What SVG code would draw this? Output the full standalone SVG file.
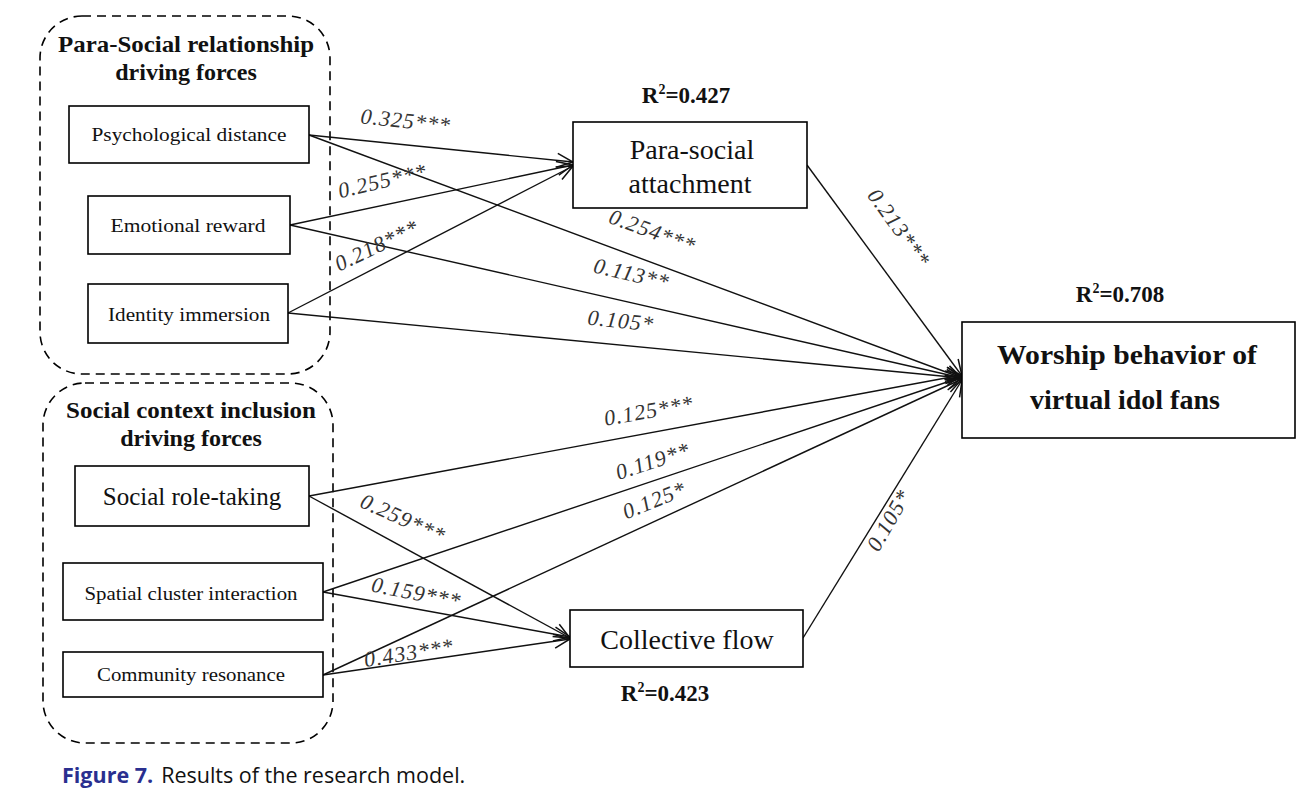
<svg xmlns="http://www.w3.org/2000/svg" width="1310" height="795" viewBox="0 0 1310 795">
<style>
.box{fill:#fff;stroke:#000;stroke-width:1.6}
.grp{fill:none;stroke:#000;stroke-width:1.6;stroke-dasharray:9 6}
.t{font-family:"Liberation Serif",serif;fill:#111;text-anchor:middle}
.gt{font-family:"Liberation Serif",serif;font-weight:bold;font-size:24px;fill:#111;text-anchor:middle}
.r2{font-family:"Liberation Serif",serif;font-weight:bold;font-size:23px;fill:#111;text-anchor:middle}
.e{fill:none;stroke:#111;stroke-width:1.4;marker-end:url(#arr)}
.lb{font-family:"Liberation Serif",serif;font-style:italic;font-size:22px;letter-spacing:1px;fill:#333;text-anchor:middle}
</style>
<defs>
<marker id="arr" viewBox="0 0 20 20" refX="18" refY="10" markerWidth="20" markerHeight="20" markerUnits="userSpaceOnUse" orient="auto">
<path d="M2,3 L18,10 L2,17" fill="none" stroke="#111" stroke-width="1.5"/>
</marker>
</defs>
<rect width="1310" height="795" fill="#fff"/>

<g id="group-parasocial">
<rect class="grp" x="40" y="16" width="290" height="358" rx="42"/>
<text class="gt" x="186" y="52" textLength="256" lengthAdjust="spacingAndGlyphs">Para-Social relationship</text>
<text class="gt" x="186" y="80">driving forces</text>
</g>
<g id="group-social">
<rect class="grp" x="43" y="383" width="290" height="360" rx="42"/>
<text class="gt" x="191" y="418" textLength="250" lengthAdjust="spacingAndGlyphs">Social context inclusion</text>
<text class="gt" x="191" y="446">driving forces</text>
</g>

<g id="edges">
<line class="e" x1="309" y1="135" x2="573" y2="162"/>
<line class="e" x1="309" y1="135" x2="962" y2="378"/>
<line class="e" x1="290" y1="225" x2="573" y2="165"/>
<line class="e" x1="290" y1="225" x2="962" y2="378"/>
<line class="e" x1="288" y1="313" x2="573" y2="166"/>
<line class="e" x1="288" y1="313" x2="962" y2="378"/>
<line class="e" x1="807" y1="165" x2="962" y2="376"/>
<line class="e" x1="309" y1="496" x2="962" y2="375"/>
<line class="e" x1="309" y1="496" x2="570" y2="638"/>
<line class="e" x1="323" y1="592" x2="962" y2="377"/>
<line class="e" x1="323" y1="592" x2="570" y2="637"/>
<line class="e" x1="323" y1="675" x2="962" y2="379"/>
<line class="e" x1="323" y1="675" x2="570" y2="639"/>
<line class="e" x1="803" y1="638" x2="962" y2="380"/>
<text class="lb" transform="translate(405,128) rotate(6)">0.325***</text>
<text class="lb" transform="translate(650,238) rotate(20)">0.254***</text>
<text class="lb" transform="translate(384,188) rotate(-13)">0.255***</text>
<text class="lb" transform="translate(630,281) rotate(13)">0.113**</text>
<text class="lb" transform="translate(380,252) rotate(-26)">0.218***</text>
<text class="lb" transform="translate(620,328) rotate(6)">0.105*</text>
<text class="lb" transform="translate(893,232) rotate(54)">0.213***</text>
<text class="lb" transform="translate(650,418) rotate(-10)">0.125***</text>
<text class="lb" transform="translate(400,525) rotate(24)">0.259***</text>
<text class="lb" transform="translate(655,468) rotate(-18)">0.119**</text>
<text class="lb" transform="translate(415,600) rotate(11)">0.159***</text>
<text class="lb" transform="translate(657,507) rotate(-22)">0.125*</text>
<text class="lb" transform="translate(410,660) rotate(-9)">0.433***</text>
<text class="lb" transform="translate(895,524) rotate(-60)">0.105*</text>
</g>

<g id="psych-distance">
<rect class="box" x="69" y="106" width="240" height="57"/>
<text class="t" x="189" y="141" font-size="19" textLength="195" lengthAdjust="spacingAndGlyphs">Psychological distance</text>
</g>
<g id="emotional-reward">
<rect class="box" x="88" y="196" width="202" height="58"/>
<text class="t" x="188" y="232" font-size="19" textLength="155" lengthAdjust="spacingAndGlyphs">Emotional reward</text>
</g>
<g id="identity-immersion">
<rect class="box" x="88" y="284" width="200" height="59"/>
<text class="t" x="189" y="321" font-size="19" textLength="162" lengthAdjust="spacingAndGlyphs">Identity immersion</text>
</g>
<g id="social-role">
<rect class="box" x="75" y="466" width="234" height="60"/>
<text class="t" x="192" y="505" font-size="25">Social role-taking</text>
</g>
<g id="spatial-cluster">
<rect class="box" x="63" y="563" width="260" height="57"/>
<text class="t" x="191" y="600" font-size="19" textLength="213" lengthAdjust="spacingAndGlyphs">Spatial cluster interaction</text>
</g>
<g id="community-resonance">
<rect class="box" x="63" y="652" width="260" height="45"/>
<text class="t" x="191" y="681" font-size="19" textLength="188" lengthAdjust="spacingAndGlyphs">Community resonance</text>
</g>
<g id="parasocial-attachment">
<rect class="box" x="573" y="122" width="234" height="86"/>
<text class="t" x="692" y="159" font-size="28">Para-social</text>
<text class="t" x="690" y="193" font-size="28">attachment</text>
<text class="r2" x="686" y="103">R<tspan font-size="14" dy="-9">2</tspan><tspan dy="9">=0.427</tspan></text>
</g>
<g id="collective-flow">
<rect class="box" x="570" y="610" width="233" height="57"/>
<text class="t" x="687" y="649" font-size="28">Collective flow</text>
<text class="r2" x="665" y="701">R<tspan font-size="14" dy="-9">2</tspan><tspan dy="9">=0.423</tspan></text>
</g>
<g id="worship">
<rect class="box" x="962" y="322" width="333" height="116"/>
<text class="t" x="1127" y="364" font-size="28" font-weight="bold" textLength="260" lengthAdjust="spacingAndGlyphs">Worship behavior of</text>
<text class="t" x="1125" y="409" font-size="28" font-weight="bold">virtual idol fans</text>
<text class="r2" x="1120" y="302">R<tspan font-size="14" dy="-9">2</tspan><tspan dy="9">=0.708</tspan></text>
</g>

<g id="caption">
<text x="62" y="783" font-family="'Open Sans','Noto Sans',sans-serif" font-size="21.5"><tspan fill="#2a2f8f" font-weight="bold">Figure 7.</tspan><tspan fill="#111" dx="8">Results of the research model.</tspan></text>
</g>
</svg>
